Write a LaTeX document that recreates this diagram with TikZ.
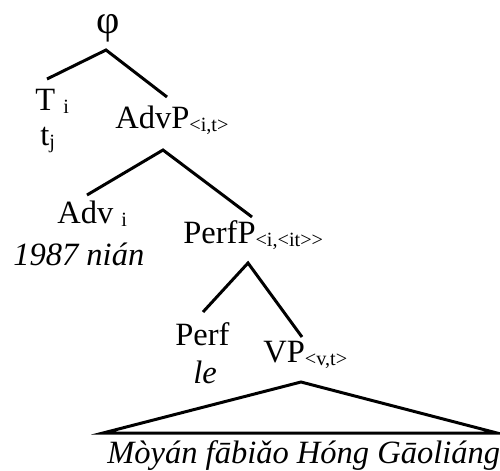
\documentclass[tikz,border=0pt]{standalone}
\usepackage{fontspec}
\setmainfont{Liberation Serif}
\usepackage{tikz}

\newcommand{\lowidx}[1]{\raisebox{-0.12em}{\fontsize{11.5}{12}\selectfont #1}}

\begin{document}
\begin{tikzpicture}[x=0.02cm,y=-0.02cm]
\tikzset{lab/.style={anchor=base west,inner sep=0pt,font=\fontsize{18.5}{22}\selectfont},
  branch/.style={line width=1.7pt},
  word/.style={lab,font=\fontsize{18.5}{22}\selectfont\itshape}}
\useasboundingbox (0,0) rectangle (500,470);
\node[lab,anchor=base,font=\fontsize{23}{26}\selectfont] (phi) at (108,33) {φ};
\node[lab] (t) at (35,110) {T \lowidx{i}};
\node[lab] (tj) at (40,145) {t\lowidx{j}};
\node[lab] (advp) at (115,128) {AdvP\lowidx{<i,t>}};
\node[lab] (adv) at (57,223) {Adv \lowidx{i}};
\node[word] (year) at (13,265) {1987 nián};
\node[lab] (perfp) at (183,243) {PerfP\lowidx{<i,<it>{}>}};
\node[lab] (perf) at (175,345) {Perf};
\node[word] (le) at (193,383) {le};
\node[lab] (vp) at (263,362) {VP\lowidx{<v,t>}};
\node[word] (vpwords) at (107,463) {Mòyán fābiǎo Hóng Gāoliáng};
% branch points
\coordinate (phi-b) at (106,50);
\coordinate (t-top) at (47,79);
\coordinate (advp-top) at (167,97);
\coordinate (advp-b) at (163,150);
\coordinate (adv-top) at (87,195);
\coordinate (perfp-top) at (252,217);
\coordinate (perfp-b) at (248,263);
\coordinate (perf-top) at (203,312);
\coordinate (vp-top) at (302,337);
\coordinate (vp-b) at (301,382);
\coordinate (vp-l) at (103,433);
\coordinate (vp-r) at (497,433);
\draw[branch] (t-top) -- (phi-b) -- (advp-top);
\draw[branch] (adv-top) -- (advp-b) -- (perfp-top);
\draw[branch] (perf-top) -- (perfp-b) -- (vp-top);
\draw[branch] (vp-b) -- (vp-l) -- (vp-r) -- cycle;
\end{tikzpicture}
\end{document}
